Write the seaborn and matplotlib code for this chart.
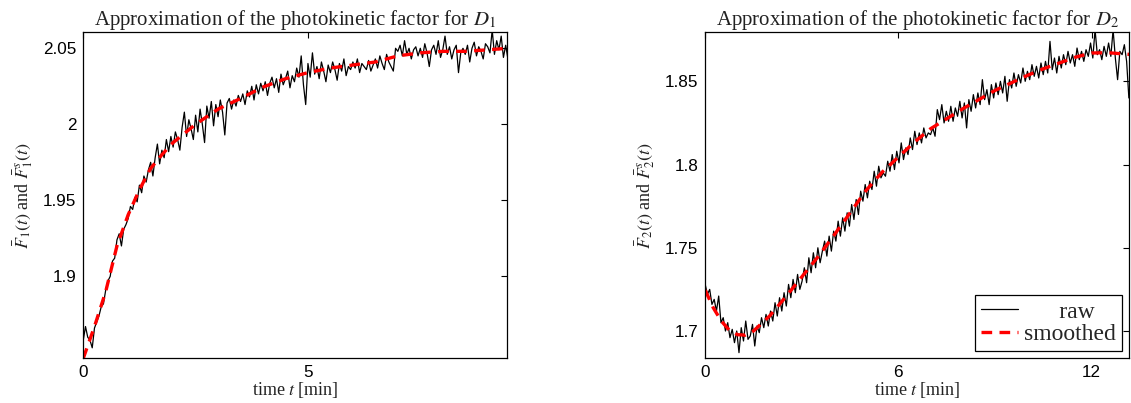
import numpy as np
import matplotlib
matplotlib.use("Agg")
import matplotlib.pyplot as plt
import seaborn as sns

# ---- data ----
dt1 = 0.05  # sampling step of the raw D1 trace [min]
raw1 = [
    1.858, 1.867, 1.860, 1.858, 1.853, 1.866, 1.870, 1.874, 1.880, 1.882,
    1.891, 1.897, 1.900, 1.910, 1.912, 1.924, 1.928, 1.920, 1.931, 1.934,
    1.938, 1.946, 1.944, 1.952, 1.949, 1.960, 1.955, 1.966, 1.962, 1.970,
    1.975, 1.966, 1.978, 1.987, 1.974, 1.983, 1.978, 1.990, 1.982, 1.992,
    1.985, 1.995, 1.990, 1.983, 1.998, 2.008, 1.992, 2.003, 1.997, 1.990,
    2.006, 1.995, 2.010, 2.000, 1.988, 2.012, 2.004, 2.015, 1.999, 2.013,
    2.005, 2.016, 2.008, 1.993, 2.014, 2.017, 2.010, 2.016, 2.012, 2.019,
    2.015, 2.020, 2.013, 2.022, 2.018, 2.025, 2.016, 2.026, 2.020, 2.027,
    2.022, 2.028, 2.019, 2.027, 2.031, 2.024, 2.030, 2.021, 2.033, 2.026,
    2.030, 2.035, 2.024, 2.032, 2.028, 2.037, 2.031, 2.045, 2.026, 2.013,
    2.040, 2.031, 2.047, 2.033, 2.038, 2.030, 2.041, 2.035, 2.028, 2.039,
    2.034, 2.041, 2.036, 2.029, 2.040, 2.035, 2.043, 2.032, 2.038, 2.036,
    2.041, 2.037, 2.043, 2.034, 2.040, 2.038, 2.036, 2.042, 2.035, 2.039,
    2.043, 2.037, 2.045, 2.040, 2.036, 2.046, 2.041, 2.038, 2.035, 2.050,
    2.048, 2.052, 2.045, 2.055, 2.046, 2.050, 2.043, 2.049, 2.051, 2.045,
    2.050, 2.044, 2.053, 2.047, 2.038, 2.049, 2.052, 2.046, 2.055, 2.044,
    2.049, 2.058, 2.046, 2.051, 2.043, 2.049, 2.052, 2.034, 2.047, 2.050,
    2.046, 2.052, 2.041, 2.050, 2.054, 2.045, 2.051, 2.048, 2.043, 2.053,
    2.051, 2.047, 2.062, 2.046, 2.055, 2.049, 2.058, 2.044, 2.052, 2.043,
]
t_s1 = [0, 0.25, 0.5, 0.75, 1.0, 1.25, 1.5, 1.75, 2.0, 2.5, 3.0, 3.5, 4.0,
        4.5, 5.0, 5.5, 6.0, 6.5, 7.0, 7.5, 8.0, 8.5, 9.0, 9.44]
smooth1 = [1.846, 1.867, 1.890, 1.920, 1.9405, 1.957, 1.971, 1.980, 1.988,
           2.000, 2.010, 2.017, 2.0245, 2.030, 2.034, 2.037, 2.039, 2.041,
           2.045, 2.047, 2.048, 2.048, 2.049, 2.050]

dt2 = 0.07  # sampling step of the raw D2 trace [min]
raw2 = [
    1.728, 1.722, 1.725, 1.716, 1.719, 1.712, 1.721, 1.705, 1.708, 1.700,
    1.705, 1.696, 1.701, 1.693, 1.700, 1.687, 1.702, 1.694, 1.706, 1.695,
    1.697, 1.704, 1.691, 1.703, 1.699, 1.708, 1.702, 1.710, 1.703, 1.712,
    1.706, 1.717, 1.709, 1.720, 1.712, 1.723, 1.715, 1.728, 1.720, 1.731,
    1.723, 1.734, 1.725, 1.730, 1.738, 1.729, 1.744, 1.735, 1.747, 1.738,
    1.750, 1.741, 1.748, 1.754, 1.745, 1.757, 1.748, 1.760, 1.754, 1.766,
    1.757, 1.768, 1.760, 1.771, 1.763, 1.776, 1.767, 1.779, 1.770, 1.784,
    1.778, 1.788, 1.780, 1.790, 1.785, 1.796, 1.787, 1.799, 1.792, 1.795,
    1.793, 1.802, 1.796, 1.806, 1.797, 1.808, 1.801, 1.813, 1.803, 1.810,
    1.806, 1.816, 1.809, 1.820, 1.812, 1.819, 1.813, 1.822, 1.816, 1.819,
    1.818, 1.822, 1.817, 1.833, 1.827, 1.836, 1.825, 1.832, 1.826, 1.835,
    1.826, 1.834, 1.829, 1.838, 1.828, 1.837, 1.822, 1.839, 1.832, 1.842,
    1.834, 1.843, 1.836, 1.851, 1.839, 1.845, 1.836, 1.848, 1.840, 1.849,
    1.842, 1.850, 1.843, 1.853, 1.838, 1.851, 1.846, 1.855, 1.847, 1.854,
    1.849, 1.858, 1.850, 1.856, 1.851, 1.860, 1.853, 1.859, 1.852, 1.861,
    1.854, 1.862, 1.855, 1.874, 1.857, 1.864, 1.855, 1.865, 1.858, 1.866,
    1.860, 1.868, 1.861, 1.866, 1.859, 1.870, 1.863, 1.868, 1.862, 1.869,
    1.865, 1.873, 1.864, 1.881, 1.866, 1.869, 1.863, 1.871, 1.865, 1.873,
    1.865, 1.881, 1.864, 1.851, 1.868, 1.866, 1.872, 1.862, 1.840,
]
t_s2 = [0, 0.25, 0.5, 0.75, 1.0, 1.25, 1.5, 2.0, 2.5, 3.0, 3.5, 4.0, 4.5,
        5.0, 5.5, 6.0, 6.5, 7.0, 7.5, 8.0, 8.5, 9.0, 9.5, 10.0, 10.5, 11.0,
        11.5, 12.0, 12.5, 13.17]
smooth2 = [1.7246, 1.714, 1.706, 1.7005, 1.6978, 1.6975, 1.700, 1.709,
           1.7205, 1.7325, 1.7445, 1.7575, 1.771, 1.7845, 1.7955, 1.8045,
           1.8135, 1.8215, 1.8275, 1.8335, 1.839, 1.8445, 1.849, 1.8535,
           1.8575, 1.861, 1.8645, 1.867, 1.8672, 1.8662]

titles = [r"Approximation of the photokinetic factor for $D_1$",
          r"Approximation of the photokinetic factor for $D_2$"]
ylabels = [r"$\bar{F}_1(t)$ and $\bar{F}_1^s(t)$",
           r"$\bar{F}_2(t)$ and $\bar{F}_2^s(t)$"]
xticks = [[0, 5], [0, 6, 12]]
yticks = [[1.9, 1.95, 2.0, 2.05], [1.7, 1.75, 1.8, 1.85]]
yticklabels = [["1.9", "1.95", "2", "2.05"], ["1.7", "1.75", "1.8", "1.85"]]
xlims = [(0, 9.44), (0, 13.17)]
ylims = [(1.8461, 2.0609), (1.6836, 1.8798)]

sns.set_theme(style="white")
plt.rcParams["font.family"] = ["Liberation Sans", "DejaVu Sans"]
plt.rcParams["mathtext.fontset"] = "stix"
serif = ["Liberation Serif", "DejaVu Serif"]

fig = plt.figure(figsize=(11.31, 4.03), dpi=100)
positions = [[0.0736, 0.1109, 0.3751, 0.8104], [0.6235, 0.1109, 0.3749, 0.8104]]
series = [(dt1, raw1, t_s1, smooth1), (dt2, raw2, t_s2, smooth2)]

for k in range(2):
    ax = fig.add_axes(positions[k])
    dt, raw, ts, sm = series[k]
    t_raw = np.arange(len(raw)) * dt
    # MATLAB-style legend shows "raw" centred in the text column
    sns.lineplot(x=t_raw, y=raw, ax=ax, color="black", lw=0.9,
                 label="      raw")
    sns.lineplot(x=ts, y=sm, ax=ax, color="#ff0000", lw=2.4,
                 dashes=False, label="smoothed")
    ax.lines[-1].set_linestyle((0, (3.2, 2.2)))

    ax.set_xlim(*xlims[k])
    ax.set_ylim(*ylims[k])
    ax.set_xticks(xticks[k])
    ax.set_yticks(yticks[k])
    ax.set_yticklabels(yticklabels[k])
    ax.tick_params(direction="in", top=True, right=True, length=4,
                   width=0.8, labelsize=12.3, colors="black", pad=5)
    for sp in ax.spines.values():
        sp.set_color("black")
        sp.set_linewidth(0.9)

    ax.set_title(titles[k], family=serif, fontsize=15, pad=5, color="#222222")
    ax.set_xlabel(r"time $t$ [min]", family=serif, fontsize=13, labelpad=0,
                  color="#222222")
    ax.set_ylabel(ylabels[k], family=serif, fontsize=13, labelpad=6,
                  color="#222222")

    if k == 1:
        leg = ax.legend(loc="lower right", frameon=True, fancybox=False,
                        edgecolor="black", framealpha=1, borderaxespad=0.3,
                        handlelength=1.6, handletextpad=0.25,
                        prop={"family": serif, "size": 17},
                        labelspacing=0.05, borderpad=0.25)
        leg.get_frame().set_linewidth(0.9)
    else:
        ax.get_legend().remove()

fig.savefig("out.png", dpi=100)
